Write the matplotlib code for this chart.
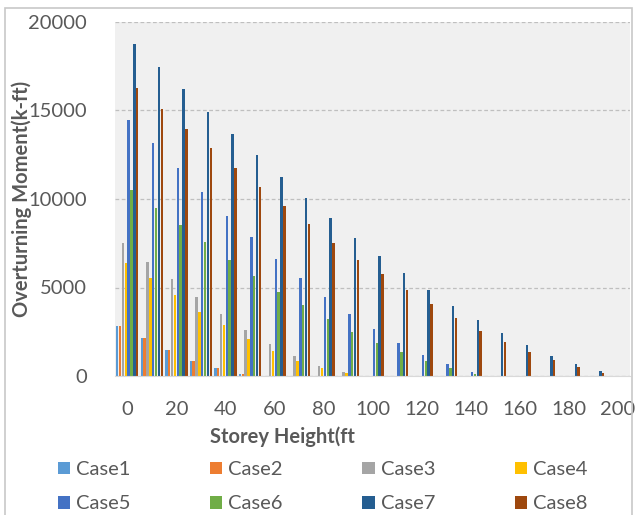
import numpy as np
import matplotlib
matplotlib.use('Agg')
import matplotlib.pyplot as plt
from matplotlib.patches import Patch, Rectangle

plt.rcParams['font.family'] = ['Lato', 'DejaVu Sans']

# storey heights (ft) - one group of bars per height
heights = [0, 10, 20, 30, 40, 50, 60, 70, 80, 90, 100,
           110, 120, 130, 140, 150, 160, 170, 180, 190, 200]

case1 = [2800, 2150, 1470, 850, 450, 110, 0, 0, 0, 0, 0, 0, 0, 0, 0, 0, 0, 0, 0, 0, 0]
case2 = [2850, 2150, 1470, 850, 450, 110, 0, 0, 0, 0, 0, 0, 0, 0, 0, 0, 0, 0, 0, 0, 0]
case3 = [7500, 6440, 5480, 4460, 3500, 2620, 1780, 1110, 570, 250, 0, 0, 0, 0, 0, 0, 0, 0, 0, 0, 0]
case4 = [6400, 5540, 4580, 3620, 2880, 2090, 1400, 860, 430, 180, 0, 0, 0, 0, 0, 0, 0, 0, 0, 0, 0]
case5 = [14460, 13160, 11750, 10400, 9040, 7850, 6610, 5560, 4480, 3500, 2640,
         1870, 1210, 660, 245, 0, 0, 0, 0, 0, 0]
case6 = [10500, 9490, 8530, 7570, 6550, 5650, 4760, 4010, 3200, 2500, 1860,
         1340, 860, 430, 100, 0, 0, 0, 0, 0, 0]
case7 = [18760, 17460, 16200, 14900, 13670, 12490, 11260, 10040, 8910, 7810, 6780,
         5800, 4860, 3970, 3160, 2410, 1750, 1150, 670, 280, 0]
case8 = [16270, 15090, 13950, 12880, 11750, 10680, 9600, 8590, 7530, 6550, 5760,
         4860, 4070, 3300, 2560, 1920, 1370, 880, 490, 150, 0]

series = [case1, case2, case3, case4, case5, case6, case7, case8]
names = ['Case1', 'Case2', 'Case3', 'Case4', 'Case5', 'Case6', 'Case7', 'Case8']
colors = ['#5B9BD5', '#ED7D31', '#A5A5A5', '#FFC000',
          '#4472C4', '#70AD47', '#255E91', '#9E480E']

txt = '#595959'

fig = plt.figure(figsize=(6.39, 5.15), dpi=100)
ax = fig.add_axes([115/639, 1 - 376/515, (630 - 115)/639, (376 - 22)/515])
ax.set_facecolor('#f0f0f0')

x = np.arange(len(heights))
step = 0.1165
for i, (vals, c) in enumerate(zip(series, colors)):
    ax.bar(x + (i - 3.5) * step, vals, width=0.1, color=c, linewidth=0)

ax.set_xlim(-0.5, len(heights) - 0.5)
ax.set_ylim(0, 20000)
ax.set_yticks([0, 5000, 10000, 15000, 20000])
ax.set_xticks(x[::2])
ax.set_xticklabels([str(h) for h in heights[::2]])
ax.tick_params(axis='both', length=0, labelsize=14.5, colors=txt)
ax.tick_params(axis='x', pad=18)
ax.tick_params(axis='y', pad=20)

ax.grid(axis='y', color='#bfbfbf', linestyle=(0, (3, 2)), linewidth=0.9)
ax.set_axisbelow(True)
for s in ['left', 'right', 'top']:
    ax.spines[s].set_visible(False)
ax.spines['bottom'].set_color('#d9d9d9')

fig.text(282/639, 1 - 437/515, 'Storey Height(ft', ha='center', va='center',
         fontsize=14.5, fontweight='bold', color=txt)
fig.text(22/639, 1 - 199/515, 'Overturning Moment(k-ft)', ha='center', va='center',
         rotation=90, fontsize=14.5, fontweight='bold', color=txt)

# legend fills column by column, so reorder to read row by row
order = [0, 4, 1, 5, 2, 6, 3, 7]
handles = [Patch(facecolor=colors[k], edgecolor='none') for k in order]
labels = [names[k] for k in order]
fig.legend(handles, labels, loc='upper left', bbox_to_anchor=(40/639, 1 - 443/515),
           ncol=4, frameon=False, fontsize=14.5, labelcolor=txt,
           handlelength=0.6, handleheight=0.6, handletextpad=0.3,
           columnspacing=3.95, labelspacing=0.85)

# thin frame around the whole chart
fig.patches.append(Rectangle((5/639, -0.02), 627/639, 1 - 8/515 + 0.02,
                             transform=fig.transFigure, fill=False,
                             edgecolor='#c8c8c8', linewidth=1.2))

fig.savefig('out.png', dpi=100)
